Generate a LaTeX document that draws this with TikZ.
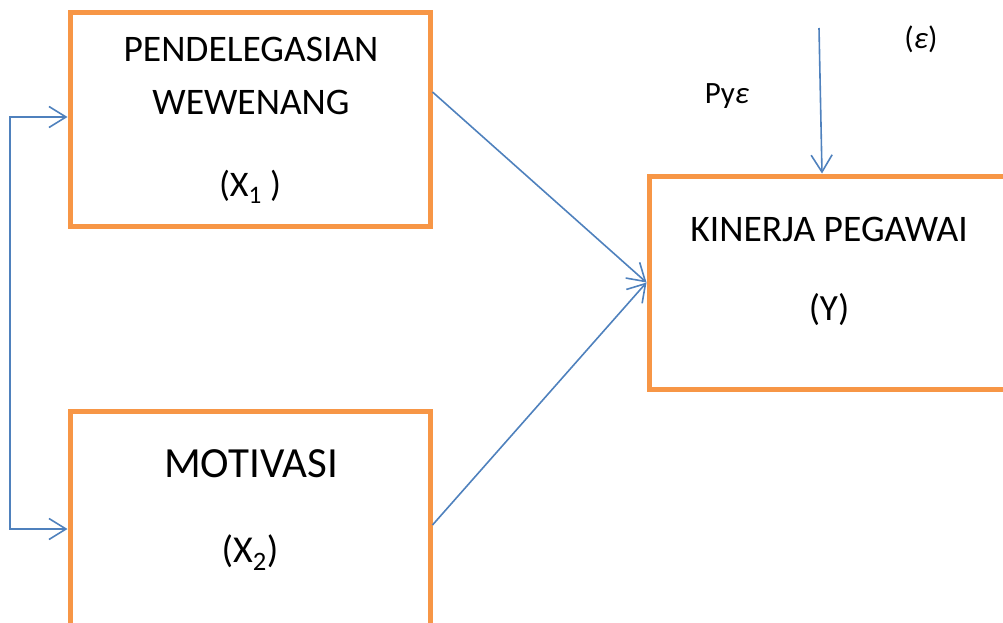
\documentclass[tikz,border=0pt]{standalone}
\usepackage{fontspec}
\setmainfont{Carlito}
\usetikzlibrary{arrows.meta}
\definecolor{boxor}{HTML}{F79646}
\definecolor{arblue}{HTML}{4F81BD}
\newcommand{\fsz}[1]{\fontsize{#1}{#1}\selectfont}
\begin{document}
\begin{tikzpicture}[x=1pt,y=-1pt,
  box/.style={draw=boxor, line width=5pt, rectangle, minimum width=360pt, minimum height=213pt, inner sep=0pt},
  tipb/.tip={Straight Barb[length=17pt,width=21pt]},
  arr/.style={draw=arblue, line width=1.6pt, -tipb},
  arrboth/.style={draw=arblue, line width=1.6pt, tipb-tipb},
  lbl/.style={anchor=base, inner sep=0pt}]
\useasboundingbox (0,0) rectangle (1003,623);
% boxes
\node[box] (b1) at (250,119.5) {};
\node[box, minimum height=240pt] (b2) at (250,531) {};
\node[box] (by) at (829,282.5) {};
% texts
\node[lbl] (t1a) at (251,62) {\fsz{37.5}PENDELEGASIAN};
\node[lbl] (t1b) at (251,114) {\fsz{37.5}WEWENANG};
\node[lbl] (t1c) at (250,196) {\fsz{36}(X\textsubscript{1} )};
\node[lbl] (t2a) at (251,477) {\fsz{43}MOTIVASI};
\node[lbl] (t2b) at (250,562) {\fsz{38}(X\textsubscript{2})};
\node[lbl] (tya) at (829,241) {\fsz{37.5}KINERJA PEGAWAI};
\node[lbl] (tyb) at (829,320) {\fsz{37}(Y)};
\node[lbl] (pye) at (727,104) {\fsz{31}Py\textit{ε}};
\node[lbl] (eps) at (921,49) {\fsz{31}(\textit{ε})};
% connectors
\coordinate (L1) at (10,117);
\coordinate (L2) at (10,529);
\draw[arrboth] (L1 -| b1.west) -- (L1) -- (L2) -- (L2 -| b2.west);
\coordinate (s1) at (432,92);
\coordinate (s2) at (432,525);
\draw[arr] (s1 -| b1.east) -- (by.west);
\draw[arr] (s2 -| b2.east) -- (by.west);
\coordinate (e0) at (819,28);
\coordinate (e1) at (822,0);
\draw[arr] (e0) -- (e1 |- by.north);
\end{tikzpicture}
\end{document}
